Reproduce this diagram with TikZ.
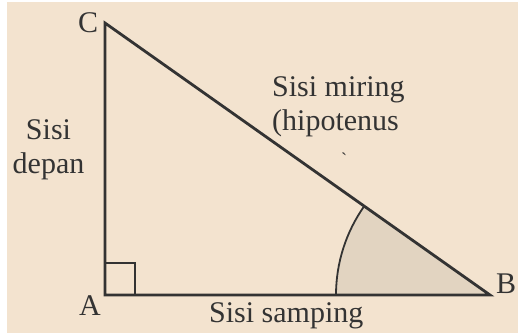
\documentclass[tikz,border=0pt]{standalone}
\usepackage{fontspec}
\setmainfont{Liberation Serif}
\definecolor{paper}{HTML}{F3E3CF}
\definecolor{wedge}{HTML}{E2D4C1}
\definecolor{ink}{HTML}{333333}
\tikzset{side/.style={ink,line width=2.8pt,line join=miter},
  lbl/.style={font=\fontsize{30}{34}\selectfont,text=ink,inner sep=0pt,anchor=base west}}

\begin{document}
\begin{tikzpicture}[x=1pt,y=-1pt]
  \useasboundingbox (0,0) rectangle (518,333);
  \fill[paper] (7,2) rectangle (518,333);
  \coordinate (A) at (105,295);
  \coordinate (B) at (490,295);
  \coordinate (C) at (105,23);
  % shaded angle at B
  \fill[wedge] (B) -- (336,295) arc[start angle=180,end angle=215.25,radius=154] -- cycle;
  \draw[ink,line width=1.8pt] (336,295) arc[start angle=180,end angle=215.25,radius=154];
  \draw[side] (A) -- (B) -- (C) -- cycle;
  \draw[side,line width=2.4pt] (105,263) -| (135,295);  % right angle
  \node[lbl] (lC) at (78,32) {C};
  \node[lbl] (lA) at (79,315) {A};
  \node[lbl] (lB) at (496,293) {B};
  \node[lbl,align=center,anchor=base] (depan) at (48.5,173) {Sisi\\depan};
  \node[lbl,align=left] (miring) at (272,130) {Sisi miring\\(hipotenus};
  \node[lbl,font=\fontsize{18}{20}\selectfont] (tick) at (341,165) {\textasciigrave};
  \node[lbl] (samping) at (209,322) {Sisi samping};
\end{tikzpicture}
\end{document}
